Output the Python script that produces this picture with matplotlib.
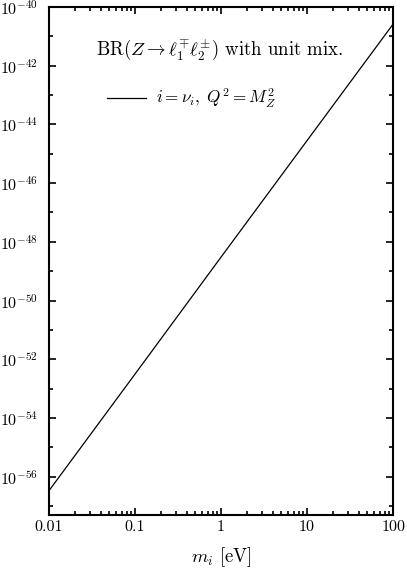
import numpy as np
import matplotlib
matplotlib.use("Agg")
import matplotlib.pyplot as plt
from matplotlib.ticker import LogLocator, FixedLocator, FixedFormatter, NullFormatter

plt.rcParams["mathtext.fontset"] = "cm"
plt.rcParams["font.family"] = "serif"
plt.rcParams["font.serif"] = ["cmr10", "DejaVu Serif"]
plt.rcParams["axes.formatter.use_mathtext"] = True

# neutrino mass [eV] and branching ratio
mass = [0.01, 0.1, 1.0, 10.0, 100.0]
br = [3.3e-57, 3.1e-53, 3.0e-49, 2.8e-45, 2.6e-41]

xticks = [0.01, 0.1, 1, 10, 100]
xticklabels = ["0.01", "0.1", "1", "10", "100"]
ydecades = list(range(-56, -39, 2))

fig = plt.figure(figsize=(4.07, 5.69), dpi=100)
ax = fig.add_axes([0.120, 0.095, 0.846, 0.893])

ax.plot(mass, br, color="k", linewidth=0.9, label=r"$i=\nu_i,\;Q^2=M_Z^2$")

ax.set_xscale("log")
ax.set_yscale("log")
ax.set_xlim(0.01, 100)
ax.set_ylim(10**-57.3, 1e-40)

ax.xaxis.set_major_locator(FixedLocator(xticks))
ax.xaxis.set_major_formatter(FixedFormatter(xticklabels))
ax.xaxis.set_minor_locator(LogLocator(base=10, subs=np.arange(2, 10)))
ax.xaxis.set_minor_formatter(NullFormatter())

ax.yaxis.set_major_locator(FixedLocator([10.0**d for d in ydecades]))
ax.yaxis.set_major_formatter(FixedFormatter([r"$10^{%d}$" % d for d in ydecades]))
ax.yaxis.set_minor_locator(FixedLocator([10.0**d for d in range(-57, -40, 2)]))
ax.yaxis.set_minor_formatter(NullFormatter())

ax.tick_params(which="both", direction="in", top=True, right=True, labelsize=11.5, width=1.2)
ax.tick_params(which="major", length=5)
ax.tick_params(which="minor", length=3)
ax.tick_params(axis="x", pad=4)
ax.tick_params(axis="y", pad=8)
for s in ax.spines.values():
    s.set_linewidth(1.5)

ax.set_xlabel(r"$m_i$ [eV]", fontsize=13.5, labelpad=8)

ax.text(0.497, 0.915, r"BR$(Z\rightarrow \ell_1^{\mp}\ell_2^{\pm})$ with unit mix.",
        transform=ax.transAxes, ha="center", va="center", fontsize=13.5)
ax.legend(loc="center left", bbox_to_anchor=(0.148, 0.82), frameon=False,
          fontsize=12.3, handlelength=2.3, handletextpad=0.6, borderaxespad=0)

fig.savefig("out.png", dpi=100)
